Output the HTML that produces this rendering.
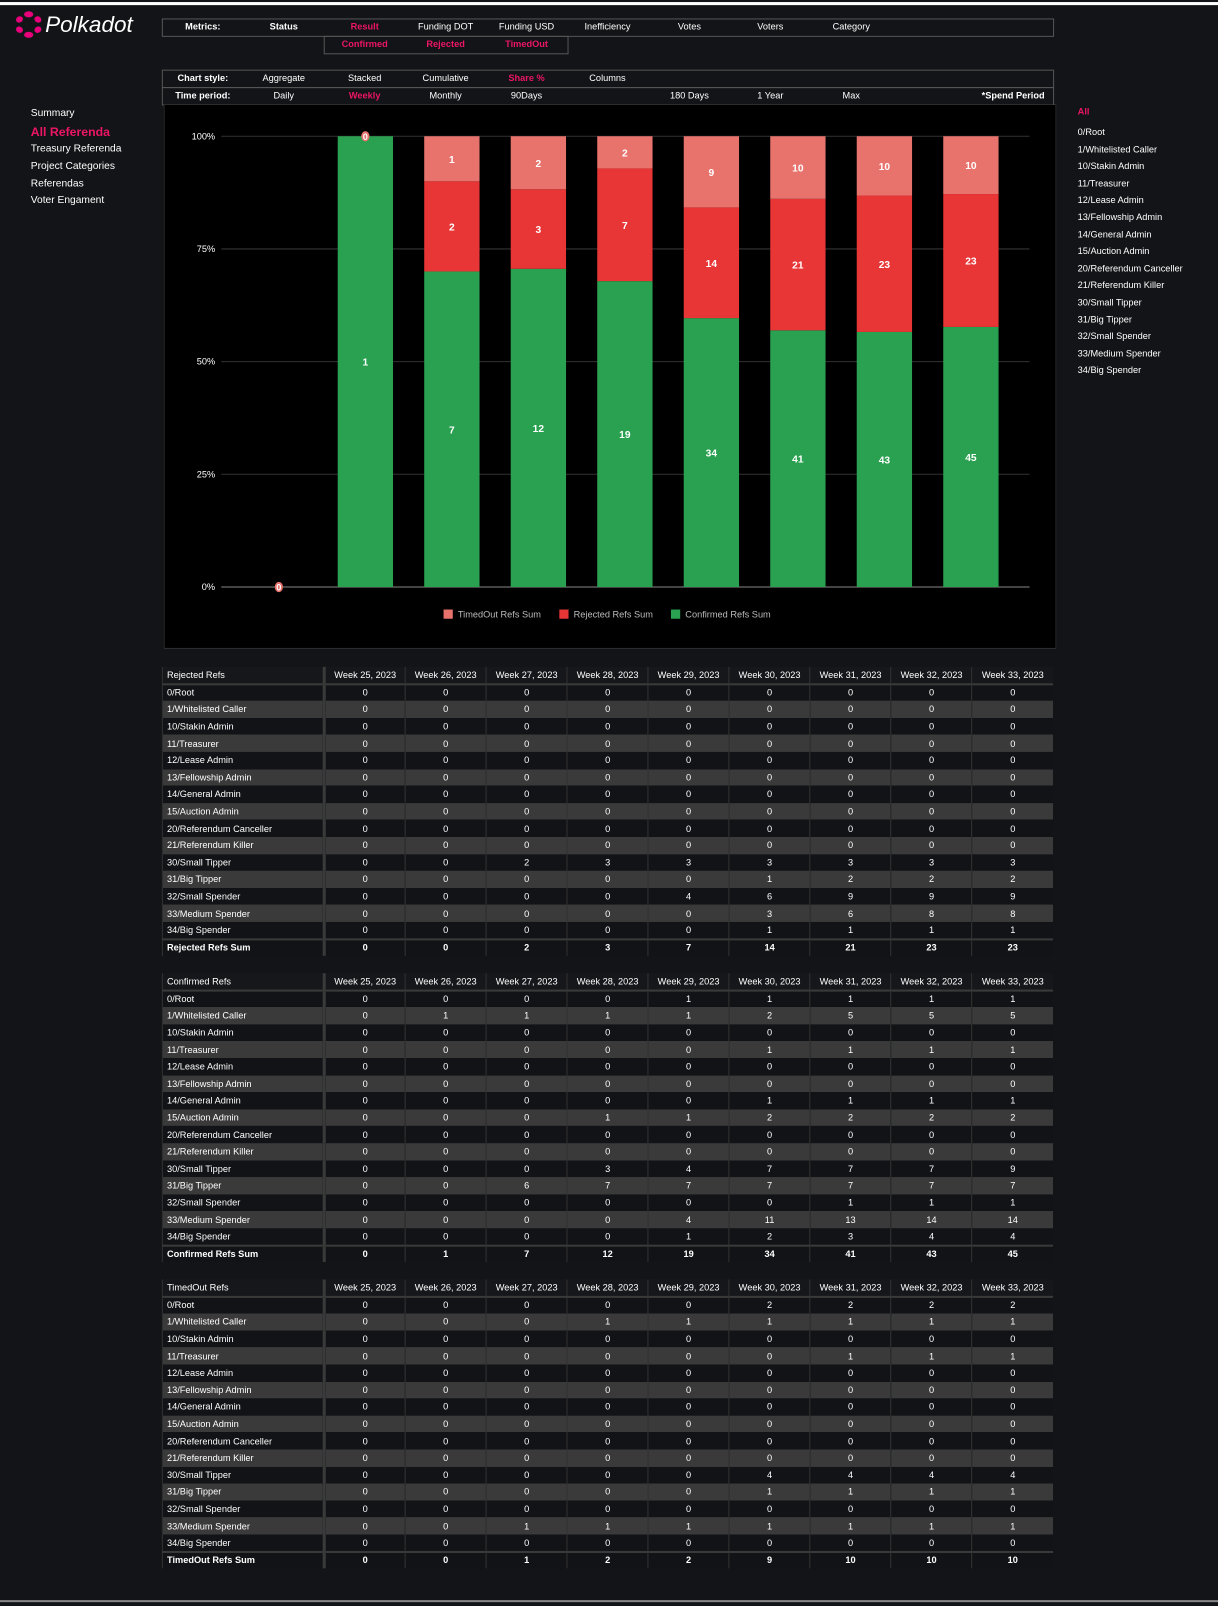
<!DOCTYPE html>
<html><head><meta charset="utf-8"><style>
body{margin:0;background:#121417;width:1218px;height:1606px;position:relative;overflow:hidden;font-family:"Liberation Sans",sans-serif;color:#fff;font-size:9px}
#wrap{position:absolute;left:0;top:0;width:1189px;height:1568px;transform:scale(1.0244);transform-origin:0 0}
.a{position:absolute}
.pink{color:#ec1566}
.box{position:absolute;border:1px solid #555;box-sizing:border-box}
.mi{position:absolute;transform:translateX(-50%);white-space:nowrap}
.b{font-weight:bold}
table{position:absolute;border-collapse:collapse;left:158px;width:870px;font-size:9px;table-layout:fixed}
td{height:16.6px;padding:0 4px;box-sizing:border-box;text-align:center;white-space:nowrap;overflow:hidden;border-left:1px solid #333}
td:first-child{text-align:left;border-right:3px solid #3a3a3a}
tr.h td{background:#15171a;border-bottom:2px solid #3a3a3a}
tr:nth-child(odd):not(.h) td{background:#3a3a3a}
tr:nth-child(even) td{background:#111316}
tr.s td{font-weight:bold;background:#111316!important;border-top:2px solid #3a3a3a}
</style></head><body><div id="wrap">
<div class="a" style="left:0;top:2px;width:1189px;height:3px;background:#fff"></div>
<div class="a" style="left:14px;top:10px;width:160px;height:28px">
<svg width="30" height="28" viewBox="0 0 30 28" style="position:absolute;left:0;top:0"><g fill="#e6007a"><ellipse cx="14" cy="4" rx="4.5" ry="3"/><ellipse cx="14" cy="24" rx="4.5" ry="3"/><ellipse cx="5" cy="9" rx="3.5" ry="3" transform="rotate(-30 5 9)"/><ellipse cx="23" cy="9" rx="3.5" ry="3" transform="rotate(30 23 9)"/><ellipse cx="5" cy="19" rx="3.5" ry="3" transform="rotate(30 5 19)"/><ellipse cx="23" cy="19" rx="3.5" ry="3" transform="rotate(-30 23 19)"/></g></svg>
<span class="a" style="left:30px;top:1px;font-size:22px;font-style:italic">Polkadot</span></div>

<div class="box" style="left:158px;top:18px;width:871px;height:18px"></div>
<div class="box" style="left:316px;top:35px;width:239px;height:18px"></div>
<div class="box" style="left:158px;top:68px;width:871px;height:18px"></div>
<div class="box" style="left:158px;top:85px;width:871px;height:18px"></div>
<div id="menus"></div>

<div class="a" style="left:30px;top:105px;font-size:10px">Summary</div>
<div class="a pink b" style="left:30px;top:122px;font-size:12px">All Referenda</div>
<div class="a" style="left:30px;top:140px;font-size:10px">Treasury Referenda</div>
<div class="a" style="left:30px;top:157px;font-size:10px">Project Categories</div>
<div class="a" style="left:30px;top:174px;font-size:10px">Referendas</div>
<div class="a" style="left:30px;top:190px;font-size:10px">Voter Engament</div>
<div id="right"></div>

<svg class="a" style="left:160px;top:102px" width="871" height="531">
<rect x="0" y="0" width="871" height="531" fill="#000" stroke="#444"/>
<g id="plot"></g></svg>

<div id="tables"></div>
<div class="a" style="left:0;top:1562px;width:1189px;height:2px;background:#888"></div>
</div>
<script>
const weeks=["Week 25, 2023","Week 26, 2023","Week 27, 2023","Week 28, 2023","Week 29, 2023","Week 30, 2023","Week 31, 2023","Week 32, 2023","Week 33, 2023"];
const confirmed=[0,1,7,12,19,34,41,43,45];
const rejected=[0,0,2,3,7,14,21,23,23];
const timedout=[0,0,1,2,2,9,10,10,10];
const yTicks=[0,25,50,75,100];
const cats=["0/Root","1/Whitelisted Caller","10/Stakin Admin","11/Treasurer","12/Lease Admin","13/Fellowship Admin","14/General Admin","15/Auction Admin","20/Referendum Canceller","21/Referendum Killer","30/Small Tipper","31/Big Tipper","32/Small Spender","33/Medium Spender","34/Big Spender"];
const Z=[0,0,0,0,0,0,0,0,0];
const rejRows=[Z,Z,Z,Z,Z,Z,Z,Z,Z,Z,[0,0,2,3,3,3,3,3,3],[0,0,0,0,0,1,2,2,2],[0,0,0,0,4,6,9,9,9],[0,0,0,0,0,3,6,8,8],[0,0,0,0,0,1,1,1,1]];
const conRows=[[0,0,0,0,1,1,1,1,1],[0,1,1,1,1,2,5,5,5],Z,[0,0,0,0,0,1,1,1,1],Z,Z,[0,0,0,0,0,1,1,1,1],[0,0,0,1,1,2,2,2,2],Z,Z,[0,0,0,3,4,7,7,7,9],[0,0,6,7,7,7,7,7,7],[0,0,0,0,0,0,1,1,1],[0,0,0,0,4,11,13,14,14],[0,0,0,0,1,2,3,4,4]];
const toRows=[[0,0,0,0,0,2,2,2,2],[0,0,0,1,1,1,1,1,1],Z,[0,0,0,0,0,0,1,1,1],Z,Z,Z,Z,Z,Z,[0,0,0,0,0,4,4,4,4],[0,0,0,0,0,1,1,1,1],Z,[0,0,1,1,1,1,1,1,1],Z];

const menuItems=[
 [27,[["Metrics:",198,1],["Status",277,1],["Result",356,2],["Funding DOT",435],["Funding USD",514],["Inefficiency",593],["Votes",673],["Voters",752],["Category",831]]],
 [44,[["Confirmed",356,2],["Rejected",435,2],["TimedOut",514,2]]],
 [77,[["Chart style:",198,1],["Aggregate",277],["Stacked",356],["Cumulative",435],["Share %",514,2],["Columns",593]]],
 [94,[["Time period:",198,1],["Daily",277],["Weekly",356,2],["Monthly",435],["90Days",514],["180 Days",673],["1 Year",752],["Max",831],["*Spend Period",989,1]]]];
const M=document.getElementById('menus');
menuItems.forEach(([y,items])=>items.forEach(([t,x,k])=>{
 const d=document.createElement('div');d.className='mi'+(k?' b':'')+(k==2?' pink':'');
 d.style.left=x+'px';d.style.top=(y-6)+'px';d.textContent=t;
 
 
 M.appendChild(d);}));
const R=document.getElementById('right');
["All"].concat(cats).forEach((c,i)=>{const d=document.createElement('div');d.className='a'+(i==0?' pink b':'');
 d.style.left='1052px';d.style.top=(i==0?104:124+(i-1)*16.6)+'px';d.textContent=c;
 
 
 R.appendChild(d);});

const NS='http://www.w3.org/2000/svg';const P=document.getElementById('plot');
const y0=471,y1=31,gx0=56,gx1=845,bx0=70,bx1=830;
const yS=v=>y0-(y0-y1)*v/100;
const step=(bx1-bx0)/weeks.length;const xC=i=>bx0+step*(i+0.5);const bw=54;
function el(t,a,txt){const e=document.createElementNS(NS,t);for(const k in a)e.setAttribute(k,a[k]);if(txt!=null)e.textContent=txt;P.appendChild(e);return e;}
yTicks.forEach(t=>{const g=el('line',{x1:gx0,x2:gx1,y1:yS(t),y2:yS(t),stroke:t==0?'#888':'#333'});
 const l=el('text',{x:50,y:yS(t)+3,'text-anchor':'end',fill:'#fff','font-size':9},t+'%');});
const series=[[confirmed,'#29a150','confirmed'],[rejected,'#e83535','rejected'],[timedout,'#e8726c','timedout']];
weeks.forEach((w,i)=>{
 const tot=confirmed[i]+rejected[i]+timedout[i];
 if(!tot){const c=el('ellipse',{cx:xC(i),cy:yS(0),rx:4,ry:5,fill:'#e8726c'});
  el('text',{x:xC(i),y:yS(0)+3.5,'text-anchor':'middle',fill:'#fff','font-size':9,'font-weight':'bold'},'0');return;}
 let acc=0;
 series.forEach(([arr,col,nm])=>{const v=arr[i];
  if(!v) return;
  const top=yS((acc+v)/tot*100),bot=yS(acc/tot*100);
  const r=el('rect',{x:xC(i)-bw/2,y:top,width:bw,height:bot-top,fill:col});
  
  el('text',{x:xC(i),y:(top+bot)/2+4,'text-anchor':'middle',fill:'#fff','font-size':10,'font-weight':'bold'},v);
  acc+=v;});
 if(!rejected[i]&&!timedout[i]){el('ellipse',{cx:xC(i),cy:yS(100),rx:4,ry:5,fill:'#e8726c'});el('text',{x:xC(i),y:yS(100)+3.5,'text-anchor':'middle',fill:'#fff','font-size':9,'font-weight':'bold'},'0');}
});
[['TimedOut Refs Sum','#e8726c',273],['Rejected Refs Sum','#e83535',386],['Confirmed Refs Sum','#29a150',495]].forEach(([t,c,x])=>{
 const r=el('rect',{x:x,y:493,width:9,height:9,fill:c});
 el('text',{x:x+14,y:501,fill:'#bbb','font-size':9},t);});

const T=document.getElementById('tables');
function table(top,title,rows,sumName,sums,nm){
 let h='<table style="top:'+top+'px"><colgroup><col style="width:158px">'+weeks.map(()=>'<col>').join('')+'</colgroup>';
 h+='<tr class="h"><td>'+title+'</td>'+weeks.map(w=>'<td>'+w+'</td>').join('')+'</tr>';
 rows.forEach((r,i)=>{h+='<tr><td>'+cats[i]+'</td>'+r.map(v=>'<td>'+v+'</td>').join('')+'</tr>';});
 h+='<tr class="s"><td>'+sumName+'</td>'+sums.map(v=>'<td>'+v+'</td>').join('')+'</tr></table>';
 T.insertAdjacentHTML('beforeend',h);}
table(651,'Rejected Refs',rejRows,'Rejected Refs Sum',rejected,'rejected-table');
table(950,'Confirmed Refs',conRows,'Confirmed Refs Sum',confirmed,'confirmed-table');
table(1249,'TimedOut Refs',toRows,'TimedOut Refs Sum',timedout,'timedout-table');
</script>
</body></html>
